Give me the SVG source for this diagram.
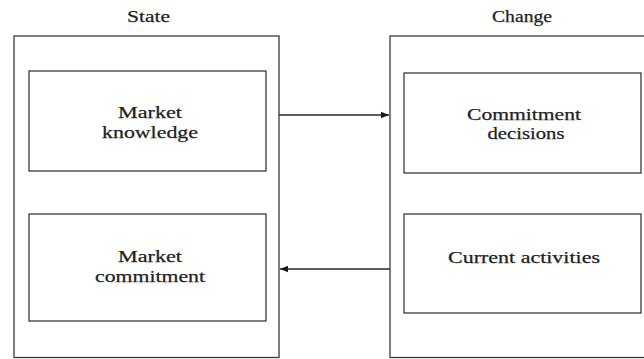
<svg xmlns="http://www.w3.org/2000/svg" width="644" height="359" viewBox="0 0 644 359">
  <style>
    .frame { fill: none; stroke: #3a3a3a; stroke-width: 1.3; }
    .box { fill: #ffffff; stroke: #3a3a3a; stroke-width: 1.3; }
    .conn { fill: none; stroke: #2a2a2a; stroke-width: 1.3; }
    text { font-family: "Liberation Serif", "Times New Roman", serif; font-size: 17px; fill: #222; stroke: #222; stroke-width: 0.25; text-anchor: middle; }
  </style>
  <defs>
    <marker id="arrow" viewBox="0 0 10 10" refX="10" refY="5" markerWidth="11" markerHeight="8" markerUnits="userSpaceOnUse" orient="auto">
      <path d="M0,1 L10,5 L0,9 Z" fill="#1a1a1a"/>
    </marker>
  </defs>
  <rect width="644" height="359" fill="#ffffff"/>

  <!-- State column -->
  <g id="state">
    <text x="148.5" y="22" textLength="43" lengthAdjust="spacingAndGlyphs">State</text>
    <rect class="frame" x="14" y="36" width="265" height="321.5"/>
  </g>
  <g id="market-knowledge">
    <rect class="box" x="29" y="71" width="237" height="100"/>
    <text x="150" y="118" textLength="64" lengthAdjust="spacingAndGlyphs">Market</text>
    <text x="150" y="138" textLength="96" lengthAdjust="spacingAndGlyphs">knowledge</text>
  </g>
  <g id="market-commitment">
    <rect class="box" x="29" y="214" width="237" height="107"/>
    <text x="150" y="262" textLength="64" lengthAdjust="spacingAndGlyphs">Market</text>
    <text x="150" y="282" textLength="110" lengthAdjust="spacingAndGlyphs">commitment</text>
  </g>

  <!-- Change column -->
  <g id="change">
    <text x="522" y="22" textLength="60" lengthAdjust="spacingAndGlyphs">Change</text>
    <rect class="frame" x="390" y="36" width="270" height="321.5"/>
  </g>
  <g id="commitment-decisions">
    <rect class="box" x="404" y="73" width="237" height="100"/>
    <text x="524" y="120" textLength="114" lengthAdjust="spacingAndGlyphs">Commitment</text>
    <text x="526" y="139" textLength="77" lengthAdjust="spacingAndGlyphs">decisions</text>
  </g>
  <g id="current-activities">
    <rect class="box" x="404" y="214" width="237" height="99"/>
    <text x="524" y="263" textLength="152" lengthAdjust="spacingAndGlyphs">Current activities</text>
  </g>

  <!-- Connectors -->
  <g id="connectors">
    <line class="conn" x1="279" y1="115" x2="389" y2="115" marker-end="url(#arrow)"/>
    <line class="conn" x1="390" y1="269" x2="280" y2="269" marker-end="url(#arrow)"/>
  </g>
</svg>
